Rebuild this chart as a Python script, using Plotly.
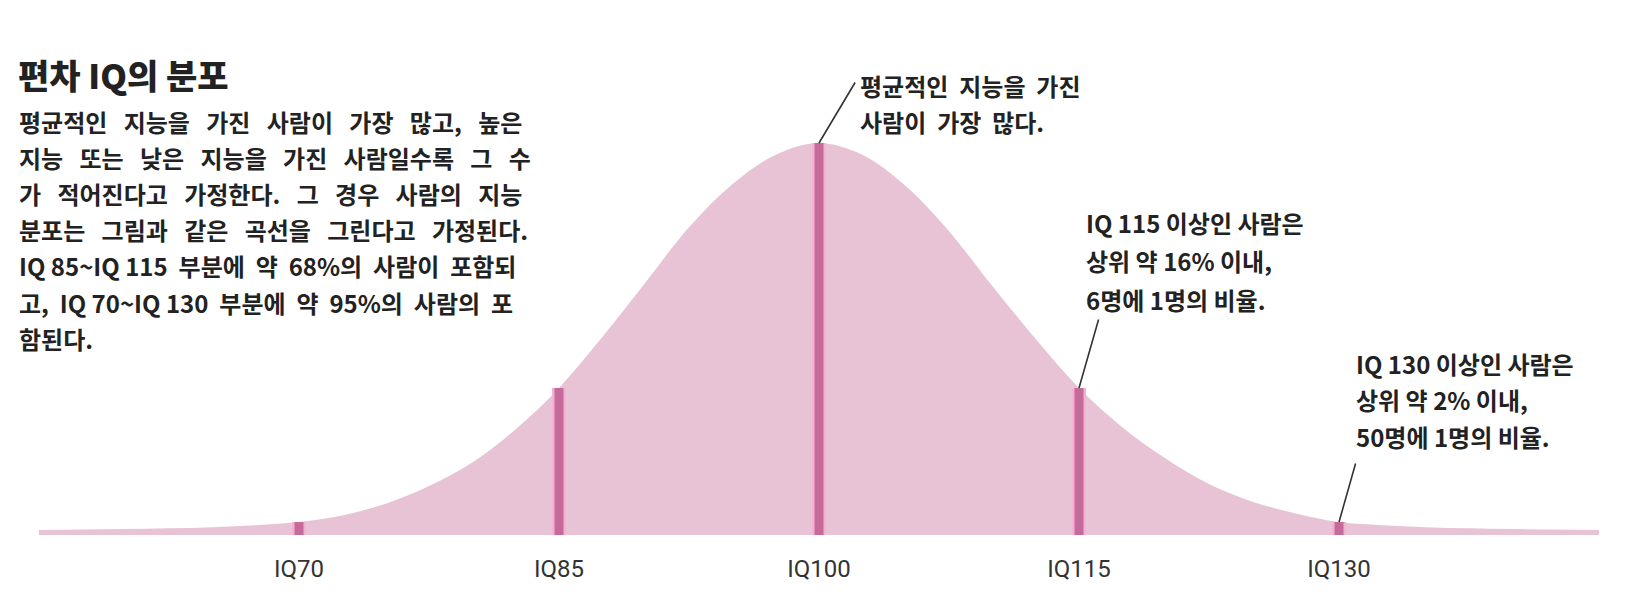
import plotly.graph_objects as go

# IQ score vs relative number of people (peak = 100)
iq = [55, 57.5, 60, 62.5, 65, 67.5, 70, 72.5, 75, 77.5, 80, 82.5, 85, 87.5,
      90, 92.5, 95, 97.5, 100, 102.5, 105, 107.5, 110, 112.5, 115, 117.5,
      120, 122.5, 125, 127.5, 130, 132.5, 135, 137.5, 140, 142.5, 145]
people = [1.3, 1.4, 1.5, 1.7, 2.0, 2.5, 3.3, 5.0, 8.0, 12.5, 18.5, 27, 37.5, 50.5,
          64.5, 78.5, 89.5, 97, 100, 97, 89, 77.5, 63.5, 50, 37.5, 27.5,
          19.5, 13, 8.5, 5.5, 3.3, 2.5, 2.0, 1.7, 1.5, 1.4, 1.3]

mark_iq = [70, 85, 100, 115, 130]
mark_h = [3.3, 37.5, 100, 37.5, 3.3]
tick_text = ["IQ70", "IQ85", "IQ100", "IQ115", "IQ130"]

title = "편차 IQ의 분포"
body = [
    "평균적인 지능을 가진 사람이 가장 많고, 높은",
    "지능 또는 낮은 지능을 가진 사람일수록 그 수",
    "가 적어진다고 가정한다. 그 경우 사람의 지능",
    "분포는 그림과 같은 곡선을 그린다고 가정된다.",
    "IQ 85~IQ 115 부분에 약 68%의 사람이 포함되",
    "고, IQ 70~IQ 130 부분에 약 95%의 사람의 포",
    "함된다.",
]
body_spread = [3, 3, 3, 3, 2, 2, 1]
note_mean = ["평균적인 지능을 가진", "사람이 가장 많다."]
note_115 = ["IQ 115 이상인 사람은", "상위 약 16% 이내,", "6명에 1명의 비율."]
note_130 = ["IQ 130 이상인 사람은", "상위 약 2% 이내,", "50명에 1명의 비율."]

W, H = 1634, 599
OFF = 8            # page body margin
BASE = 535 - OFF   # baseline of the curve in figure pixels
KR = "Noto Sans CJK KR"
ink = "#222222"

fill_pink = "#e8c3d6"
light_pink = "#f3b2d2"
dark_pink = "#c56a9a"

fig = go.Figure()
fig.add_trace(go.Scatter(x=iq, y=people, mode="lines",
                         line=dict(shape="spline", width=0, color=fill_pink),
                         fill="tozeroy", fillcolor=fill_pink, hoverinfo="skip"))

# the darker vertical lines at each 15 points
seg_x, seg_y = [], []
for q, h in zip(mark_iq, mark_h):
    seg_x += [q, q, None]
    seg_y += [0, h, None]
fig.add_trace(go.Scatter(x=seg_x, y=seg_y, mode="lines",
                         line=dict(color=light_pink, width=14), hoverinfo="skip"))
fig.add_trace(go.Scatter(x=seg_x, y=seg_y, mode="lines",
                         line=dict(color=dark_pink, width=9), hoverinfo="skip"))


def px(x):
    return (x - OFF - 2) / W


def py(y):
    return (BASE - (y - OFF - 2)) / BASE


def spaced(t, n):
    # justify-like spacing, but keep "IQ 85" tight
    t = t.replace("IQ ", "IQ\u00a0")
    return t.replace(" ", "\u00a0" * n)


def add_lines(lines, x, y0, step, size, weight=700, spread=None):
    for i, t in enumerate(lines):
        n = spread[i] if spread else 1
        fig.add_annotation(text=spaced(t, n), x=px(x), y=py(y0 + i * step),
                           xref="paper", yref="paper",
                           xanchor="left", yanchor="middle", showarrow=False,
                           font=dict(family=KR, size=size, color=ink, weight=weight))


add_lines([title], 18, 76, 0, 34, weight=900)
add_lines(body, 19, 123, 36.2, 24, spread=body_spread)
add_lines(note_mean, 860, 87, 36, 24, spread=[2, 2])
add_lines(note_115, 1086, 224, 38.5, 24)
add_lines(note_130, 1356, 365, 36.5, 24)

# leader lines
for idx, ax, ay in [(2, 37, -62), (3, 20, -70), (4, 17, -60)]:
    fig.add_annotation(x=mark_iq[idx], y=mark_h[idx], xref="x", yref="y", text="",
                       showarrow=True, arrowhead=0, arrowwidth=1.6, arrowcolor="#333333",
                       ax=ax, ay=ay, standoff=0, startstandoff=0)

px_per_iq = 260 / 15
x_left = 100 - (819 - OFF) / px_per_iq
x_right = x_left + W / px_per_iq

fig.update_layout(
    width=W, height=H,
    margin=dict(l=0, r=0, t=0, b=H - BASE),
    paper_bgcolor="white", plot_bgcolor="white",
    showlegend=False,
    xaxis=dict(range=[x_left, x_right], showgrid=False, zeroline=False, showline=False,
               tickvals=mark_iq, ticktext=tick_text, ticks="",
               ticklabelstandoff=17,
               tickfont=dict(family="Roboto, sans-serif", size=24, color="#333333")),
    yaxis=dict(range=[0, BASE / 3.92], visible=False, fixedrange=True),
)

fig.write_html("out.html")
